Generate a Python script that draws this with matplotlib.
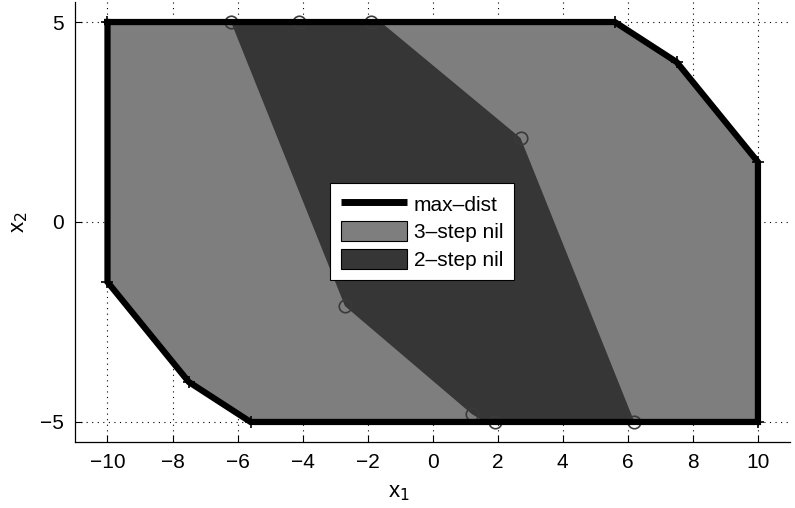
import matplotlib.pyplot as plt
from matplotlib.patches import Polygon, Patch
from matplotlib.lines import Line2D

plt.rcParams['font.family'] = ['Liberation Sans', 'DejaVu Sans']

# max-dist boundary (closed polygon)
maxdist_x = [-10, 5.6, 7.5, 10, 10, -5.6, -7.5, -10, -10]
maxdist_y = [5, 5, 4, 1.5, -5, -5, -4, -1.5, 5]

# 3-step nil set covers the whole max-dist region
nil3_x = maxdist_x[:-1]
nil3_y = maxdist_y[:-1]

# 2-step nil set
nil2_x = [-6.2, -1.6, 2.7, 6.2, 1.6, 1.2, -2.7]
nil2_y = [5, 5, 2.1, -5, -5, -4.8, -2.1]

# vertices marked with circles
circ_x = [-6.2, -4.1, -1.9, 2.7, -2.7, 1.2, 1.9, 6.2]
circ_y = [5, 5, 5, 2.1, -2.1, -4.8, -5, -5]

xticks = [-10, -8, -6, -4, -2, 0, 2, 4, 6, 8, 10]
yticks = [-5, 0, 5]

light = '#7e7e7e'
dark = '#363636'

fig = plt.figure(figsize=(7.95, 5.08), dpi=100)
ax = fig.add_axes([0.0943, 0.130, 0.9, 0.866])

ax.add_patch(Polygon(list(zip(nil3_x, nil3_y)), closed=True,
                     facecolor=light, edgecolor='none', zorder=2))
ax.add_patch(Polygon(list(zip(nil2_x, nil2_y)), closed=True,
                     facecolor=dark, edgecolor='none', zorder=3))
ax.plot(circ_x, circ_y, 'o', mfc='none', mec='#3a3a3a', ms=9, mew=1.2, zorder=4)
ax.plot(maxdist_x, maxdist_y, '-', color='black', lw=4.5, zorder=5,
        solid_joinstyle='miter')
ax.plot(maxdist_x[:-1], maxdist_y[:-1], '+', color='black', ms=9, mew=1.2, zorder=6)

ax.set_xlim(-11, 11)
ax.set_ylim(-5.5, 5.5)
ax.set_xticks(xticks)
ax.set_yticks(yticks)
ax.tick_params(direction='in', length=5, labelsize=15, width=0.8, pad=8)
ax.grid(True, linestyle=(0, (1, 4)), color='black', linewidth=0.8, zorder=0)
ax.set_axisbelow(True)
for s in ['top', 'right']:
    ax.spines[s].set_visible(False)
for s in ['left', 'bottom']:
    ax.spines[s].set_linewidth(0.9)

ax.set_xlabel('x$_1$', fontsize=16)
ax.set_ylabel('x$_2$', fontsize=16)
ax.xaxis.set_label_coords(0.453, -0.09)
ax.yaxis.set_label_coords(-0.063, 0.5)

handles = [Line2D([0], [0], color='black', lw=5, solid_capstyle='butt'),
           Patch(facecolor=light, edgecolor='black', lw=0.8),
           Patch(facecolor=dark, edgecolor='black', lw=0.8)]
leg = ax.legend(handles, ['max\u2013dist', '3\u2013step nil', '2\u2013step nil'],
                loc='upper left', bbox_to_anchor=(0.3566, 0.5886), fontsize=15,
                fancybox=False, framealpha=1, edgecolor='black',
                handlelength=3.17, handleheight=1.1, borderpad=0.5,
                labelspacing=0.31, handletextpad=0.34, borderaxespad=0)
leg.get_frame().set_linewidth(0.8)
leg.set_zorder(10)

fig.savefig('out.png', dpi=100)
